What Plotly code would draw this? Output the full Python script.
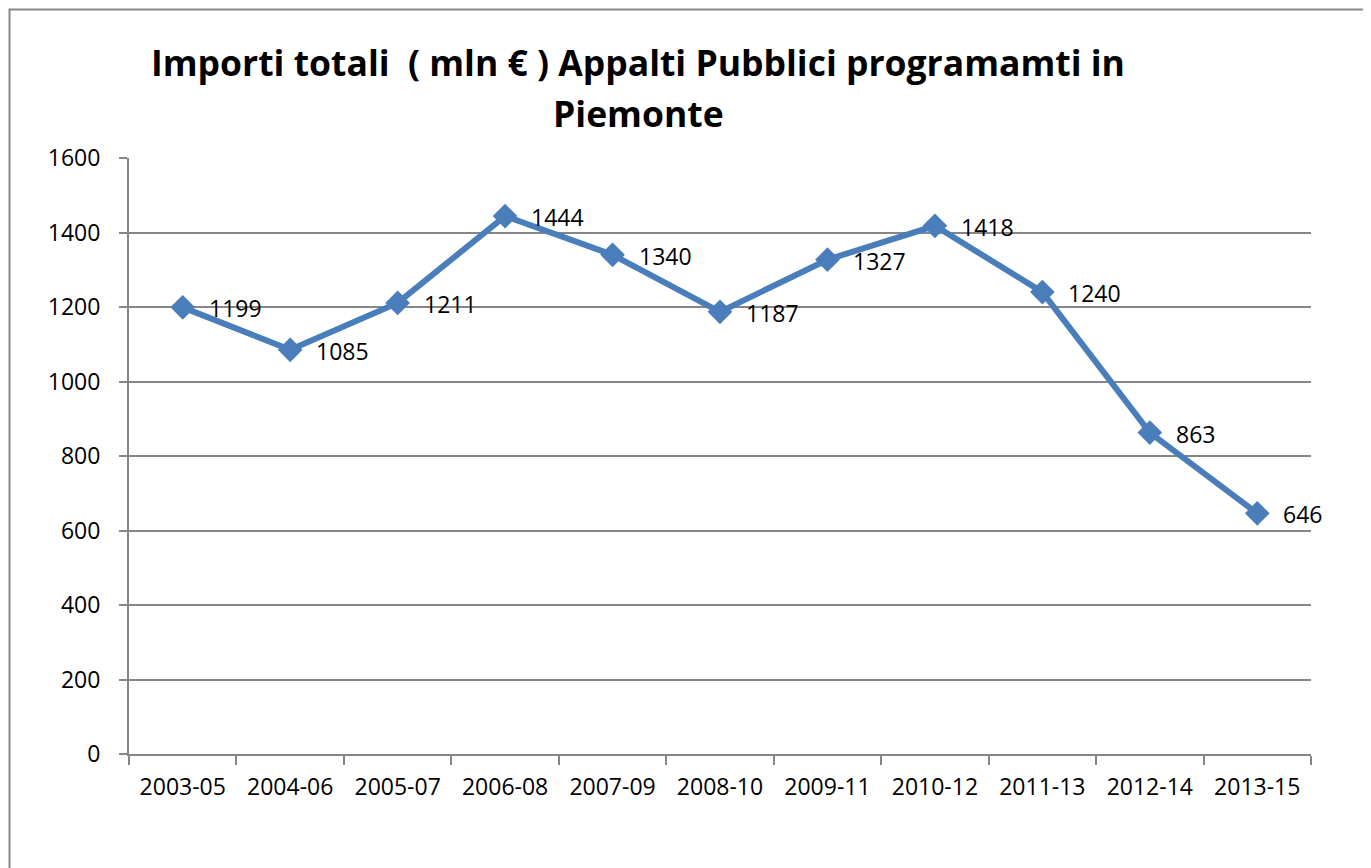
import plotly.graph_objects as go

periods = ["2003-05", "2004-06", "2005-07", "2006-08", "2007-09", "2008-10",
           "2009-11", "2010-12", "2011-13", "2012-14", "2013-15"]
importi = [1199, 1085, 1211, 1444, 1340, 1187, 1327, 1418, 1240, 863, 646]
y_ticks = [0, 200, 400, 600, 800, 1000, 1200, 1400, 1600]
title_lines = ["Importi totali \u00a0( mln € ) Appalti Pubblici programamti in", "Piemonte"]

OFF = 8  # default page body margin
W, H = 1371 - OFF, 868 - OFF
L, R, T, B = 129 - OFF, 1311 - OFF, 158 - OFF, 754 - OFF
FONT = "Open Sans"
BLUE = "#4A7EBB"
GRID = "#868686"

def px(x):
    return (x - OFF - L) / (R - L)

def py(y):
    return (B - (y - OFF)) / (B - T)

fig = go.Figure()
fig.add_trace(go.Scatter(
    x=periods, y=importi, mode="lines+markers",
    line=dict(color=BLUE, width=6),
    marker=dict(symbol="diamond", size=19, color=BLUE),
    cliponaxis=False, showlegend=False,
))

for p, v in zip(periods, importi):
    fig.add_annotation(x=p, y=v, text=str(v), showarrow=False,
                       xanchor="left", yanchor="middle", xshift=24, yshift=-1,
                       font=dict(family=FONT, size=23, color="#000000"))

for line, yc in zip(title_lines, [62, 113]):
    fig.add_annotation(xref="paper", yref="paper", x=px(638), y=py(yc),
                       text=line, showarrow=False, xanchor="center", yanchor="middle",
                       font=dict(family=FONT, size=35.5, color="#000000", weight="bold"))

fig.add_shape(type="rect", xref="paper", yref="paper",
              x0=px(9.5), y0=py(9.5), x1=px(1400), y1=py(900),
              line=dict(color="#878787", width=2), fillcolor="rgba(0,0,0,0)", layer="below")

fig.update_layout(
    width=W, height=H,
    margin=dict(l=L, r=W - R, t=T, b=H - B),
    paper_bgcolor="white", plot_bgcolor="white",
    font=dict(family=FONT, size=23, color="#000000"),
    xaxis=dict(type="category", range=[-0.5, len(periods) - 0.5],
               showgrid=False, showline=True, linecolor=GRID, linewidth=2,
               ticks="outside", tickson="boundaries", ticklen=9, tickcolor=GRID, tickwidth=2,
               tickfont=dict(family=FONT, size=23), ticklabelstandoff=11),
    yaxis=dict(range=[0, 1600], tickvals=y_ticks, showgrid=True, gridcolor=GRID, gridwidth=1.5,
               showline=True, linecolor=GRID, linewidth=2, zeroline=False,
               ticks="outside", ticklen=8, tickcolor=GRID, tickwidth=2,
               tickfont=dict(family=FONT, size=23), ticklabelstandoff=14),
)

fig.write_html("out.html")
